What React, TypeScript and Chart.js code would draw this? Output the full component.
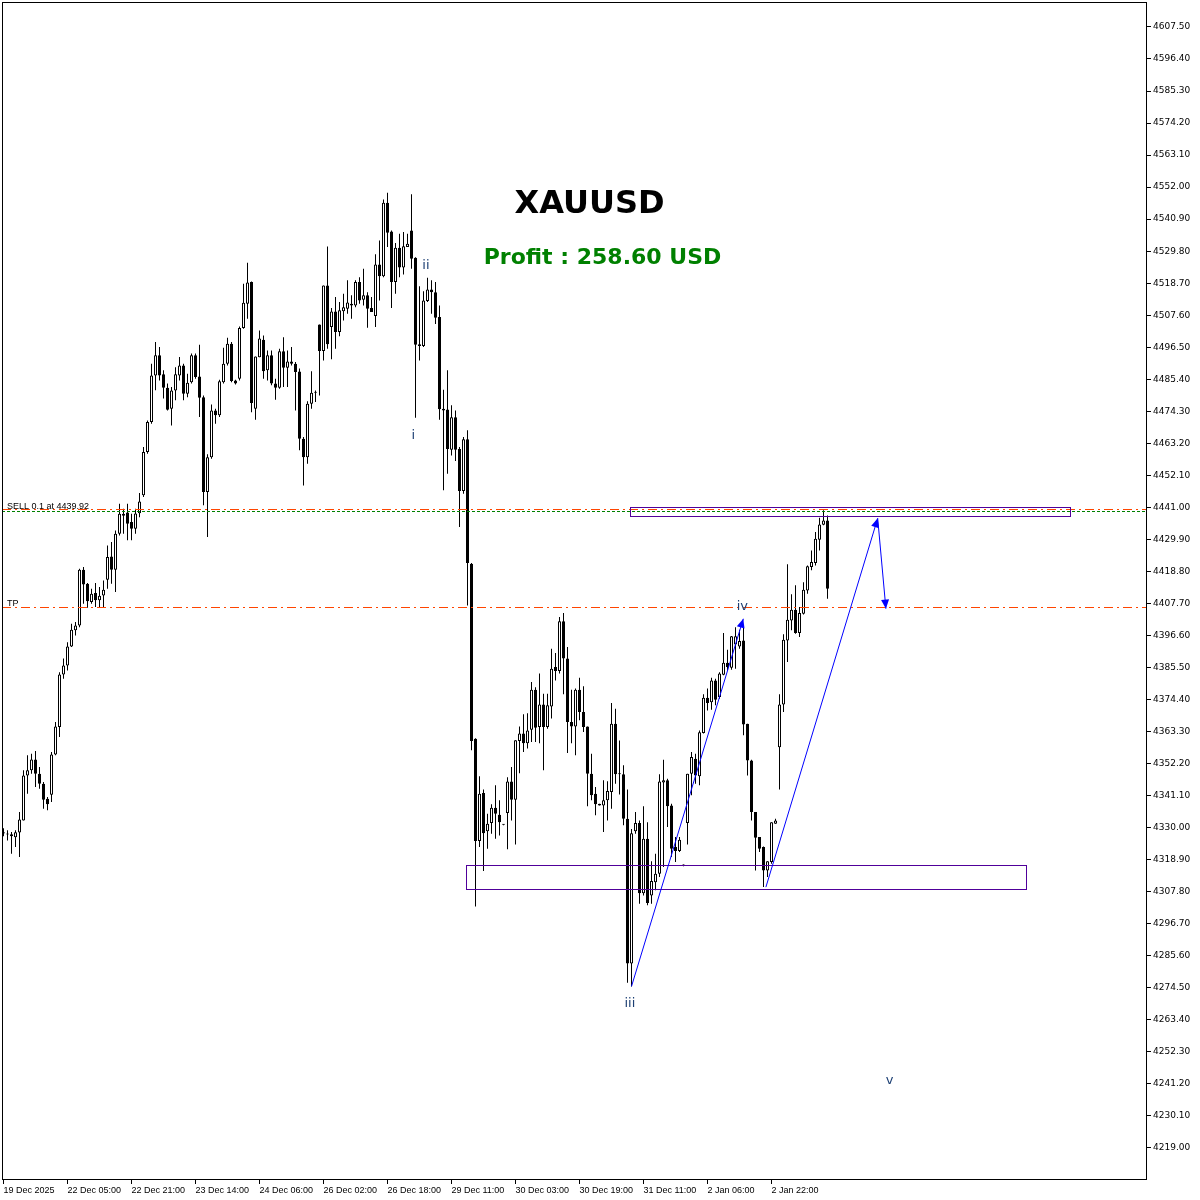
import React, { useEffect, useRef } from 'react';
import { Chart, registerables } from 'chart.js';

Chart.register(...registerables);

// ---------- Candle data (XAUUSD H1) ----------
const OPEN = [
  4328.0, 4327.8, 4327.7, 4326.7, 4328.3, 4332.5, 4348.1, 4349.9, 4353.6, 4348.7,
  4345.2, 4340.0, 4341.4, 4355.4, 4364.9, 4383.1, 4386.2, 4392.8, 4398.4, 4400.1,
  4419.4, 4414.5, 4408.2, 4411.3, 4408.8, 4410.5, 4415.9, 4424.0, 4419.4, 4431.9,
  4438.8, 4439.2, 4435.9, 4433.6, 4439.0, 4445.2, 4460.2, 4470.6, 4486.7, 4493.7,
  4487.1, 4482.5, 4475.2, 4481.5, 4486.7, 4490.2, 4480.4, 4484.4, 4493.7, 4486.4,
  4479.2, 4446.3, 4458.4, 4474.6, 4472.9, 4484.4, 4490.8, 4497.7, 4485.0, 4485.6,
  4503.2, 4511.6, 4519.1, 4475.2, 4493.0, 4499.1, 4488.5, 4493.7, 4483.9, 4482.5,
  4495.1, 4489.4, 4491.6, 4490.8, 4488.1, 4464.8, 4458.4, 4476.9, 4480.7, 4504.4,
  4495.2, 4517.9, 4503.5, 4508.9, 4501.8, 4509.0, 4509.8, 4511.6, 4511.0, 4519.1,
  4513.0, 4514.5, 4510.1, 4507.3, 4525.2, 4521.1, 4546.6, 4536.6, 4519.1, 4531.0,
  4524.1, 4531.2, 4537.0, 4527.5, 4497.5, 4496.9, 4512.5, 4516.5, 4515.6, 4507.0,
  4475.2, 4474.9, 4461.0, 4472.2, 4461.2, 4446.7, 4464.6, 4421.5, 4360.8, 4325.4,
  4342.0, 4328.8, 4331.6, 4336.9, 4334.5, 4331.0, 4335.1, 4346.0, 4339.7, 4360.0,
  4362.6, 4359.3, 4363.9, 4377.8, 4364.9, 4372.7, 4364.9, 4372.0, 4385.7, 4384.3,
  4401.5, 4388.6, 4366.6, 4365.1, 4377.8, 4370.1, 4365.1, 4348.7, 4341.8, 4338.3,
  4337.7, 4339.5, 4342.4, 4366.0, 4348.9, 4348.5, 4333.1, 4282.9, 4328.8, 4331.6,
  4307.3, 4326.2, 4306.5, 4311.1, 4314.0, 4345.7, 4346.4, 4337.7, 4323.3, 4321.9,
  4316.9, 4331.6, 4348.7, 4353.9, 4347.8, 4362.8, 4375.0, 4373.5, 4381.0, 4375.3,
  4383.0, 4387.2, 4385.4, 4393.5, 4392.8, 4394.9, 4366.0, 4353.3, 4335.4, 4326.8,
  4323.3, 4315.2, 4318.1, 4331.4, 4357.9, 4372.7, 4394.9, 4401.8, 4405.5, 4397.5,
  4404.1, 4412.2, 4420.3, 4421.7, 4429.8, 4435.0, 4436.5,
];
const HIGH = [
  4329.8, 4329.1, 4328.5, 4329.1, 4335.4, 4349.9, 4355.1, 4355.6, 4356.6, 4351.0,
  4345.8, 4340.6, 4356.2, 4366.6, 4383.9, 4388.6, 4394.3, 4400.7, 4401.3, 4419.7,
  4420.3, 4414.8, 4412.8, 4414.8, 4413.4, 4415.7, 4427.8, 4429.0, 4433.0, 4442.3,
  4440.5, 4442.3, 4438.8, 4440.5, 4446.0, 4461.9, 4471.1, 4490.8, 4498.3, 4496.6,
  4488.5, 4483.9, 4482.7, 4489.6, 4493.1, 4490.8, 4487.3, 4494.3, 4494.3, 4497.4,
  4479.8, 4459.4, 4476.7, 4475.2, 4485.2, 4496.3, 4499.8, 4498.3, 4485.2, 4503.7,
  4518.5, 4525.8, 4519.3, 4493.3, 4502.3, 4500.6, 4495.4, 4495.4, 4485.6, 4496.0,
  4500.0, 4495.4, 4496.6, 4491.4, 4489.1, 4465.4, 4477.8, 4488.2, 4481.5, 4504.4,
  4517.9, 4531.4, 4510.1, 4513.9, 4512.2, 4515.0, 4519.7, 4514.5, 4519.7, 4520.8,
  4523.7, 4515.6, 4513.9, 4528.7, 4533.5, 4547.7, 4550.0, 4537.0, 4532.6, 4535.8,
  4536.4, 4535.8, 4549.5, 4527.7, 4517.6, 4515.9, 4520.6, 4519.7, 4519.1, 4511.0,
  4481.8, 4488.5, 4476.4, 4474.6, 4461.9, 4465.4, 4467.7, 4421.7, 4361.0, 4347.8,
  4343.2, 4334.8, 4338.1, 4344.7, 4339.5, 4331.2, 4347.5, 4351.0, 4360.3, 4365.1,
  4369.3, 4369.7, 4380.5, 4378.7, 4383.4, 4376.4, 4376.4, 4392.0, 4390.5, 4403.0,
  4404.4, 4392.6, 4377.8, 4378.2, 4382.0, 4379.0, 4365.1, 4355.6, 4344.1, 4338.3,
  4346.4, 4346.1, 4373.2, 4371.2, 4360.2, 4351.6, 4343.2, 4329.5, 4335.4, 4332.5,
  4337.4, 4331.9, 4318.4, 4321.0, 4348.5, 4353.5, 4347.0, 4338.3, 4326.8, 4326.8,
  4317.2, 4348.7, 4356.2, 4355.6, 4363.7, 4376.2, 4378.2, 4382.0, 4381.6, 4383.9,
  4397.5, 4391.7, 4396.4, 4399.5, 4398.6, 4399.5, 4366.0, 4353.5, 4335.4, 4326.8,
  4323.5, 4318.4, 4331.9, 4333.1, 4376.2, 4397.0, 4421.3, 4410.9, 4414.0, 4406.5,
  4415.1, 4420.9, 4426.1, 4432.5, 4437.4, 4440.0, 4438.2,
];
const LOW = [
  4327.0, 4325.6, 4321.0, 4323.3, 4319.8, 4332.5, 4341.8, 4348.7, 4344.1, 4343.5,
  4336.6, 4336.0, 4338.9, 4355.1, 4361.4, 4381.6, 4384.5, 4392.6, 4396.6, 4399.5,
  4407.6, 4406.2, 4407.6, 4406.5, 4406.5, 4406.5, 4412.8, 4414.5, 4411.7, 4431.3,
  4431.9, 4429.6, 4429.6, 4431.9, 4437.6, 4444.6, 4459.6, 4470.0, 4481.6, 4485.0,
  4478.7, 4474.6, 4469.4, 4478.1, 4485.0, 4478.1, 4479.2, 4483.9, 4485.6, 4472.3,
  4441.7, 4430.7, 4457.9, 4470.0, 4472.3, 4483.9, 4490.2, 4484.4, 4483.6, 4485.0,
  4502.9, 4506.4, 4474.0, 4471.4, 4493.0, 4485.6, 4485.0, 4483.3, 4478.3, 4482.1,
  4482.7, 4482.7, 4490.2, 4474.6, 4460.8, 4448.6, 4456.1, 4475.2, 4477.5, 4479.8,
  4491.9, 4496.0, 4492.3, 4496.0, 4500.3, 4505.8, 4508.1, 4506.4, 4510.4, 4511.6,
  4511.0, 4503.3, 4508.7, 4503.5, 4512.7, 4520.8, 4531.2, 4510.1, 4515.0, 4520.8,
  4521.7, 4531.2, 4523.7, 4472.1, 4491.9, 4496.6, 4512.2, 4508.1, 4504.6, 4471.4,
  4446.9, 4452.7, 4459.0, 4457.1, 4434.2, 4445.7, 4407.0, 4356.8, 4302.7, 4323.3,
  4315.0, 4322.7, 4327.9, 4326.2, 4327.3, 4330.8, 4322.5, 4332.5, 4324.2, 4348.9,
  4356.2, 4357.4, 4359.7, 4359.7, 4359.3, 4349.9, 4364.3, 4367.8, 4381.0, 4383.4,
  4376.2, 4355.9, 4359.3, 4355.1, 4367.2, 4363.2, 4337.4, 4339.5, 4334.3, 4337.7,
  4328.5, 4332.5, 4336.6, 4345.2, 4341.5, 4330.8, 4276.3, 4275.0, 4327.9, 4303.6,
  4306.5, 4303.1, 4303.6, 4308.3, 4312.9, 4316.4, 4330.2, 4319.8, 4318.1, 4321.6,
  4316.6, 4324.2, 4341.2, 4345.2, 4344.7, 4362.6, 4370.6, 4370.9, 4372.4, 4374.7,
  4382.8, 4384.5, 4384.7, 4385.1, 4392.0, 4362.0, 4348.1, 4332.5, 4315.2, 4321.6,
  4309.4, 4312.9, 4317.5, 4331.4, 4343.2, 4370.1, 4387.4, 4398.4, 4397.2, 4396.1,
  4403.9, 4411.1, 4419.2, 4420.9, 4426.1, 4434.8, 4409.3,
];
const CLOSE = [
  4328.4, 4327.6, 4327.0, 4328.4, 4332.8, 4348.1, 4349.9, 4353.6, 4348.7, 4345.2,
  4339.7, 4338.1, 4355.4, 4365.1, 4383.1, 4386.2, 4392.8, 4398.6, 4400.1, 4419.4,
  4414.3, 4408.5, 4411.1, 4408.8, 4410.4, 4412.5, 4423.8, 4419.4, 4431.9, 4438.8,
  4438.1, 4435.3, 4433.6, 4438.9, 4443.0, 4460.2, 4470.6, 4486.7, 4493.7, 4486.7,
  4482.5, 4474.8, 4481.5, 4487.1, 4490.2, 4480.4, 4484.2, 4493.7, 4486.2, 4479.0,
  4446.3, 4458.4, 4474.6, 4472.9, 4484.7, 4490.8, 4497.7, 4484.8, 4483.9, 4503.2,
  4511.9, 4518.9, 4477.2, 4493.3, 4499.5, 4488.2, 4493.7, 4483.9, 4482.5, 4495.1,
  4489.4, 4491.6, 4490.8, 4487.9, 4464.8, 4458.4, 4476.9, 4480.7, 4481.0, 4495.2,
  4517.9, 4497.5, 4508.9, 4501.8, 4509.3, 4510.4, 4512.0, 4511.0, 4519.1, 4512.7,
  4514.5, 4509.8, 4508.7, 4525.2, 4521.1, 4546.6, 4536.2, 4519.1, 4531.0, 4524.1,
  4531.5, 4532.4, 4527.2, 4497.4, 4496.9, 4512.7, 4516.5, 4515.6, 4506.7, 4475.0,
  4474.6, 4461.2, 4472.2, 4461.0, 4446.7, 4464.6, 4421.7, 4360.0, 4325.4, 4341.8,
  4328.1, 4331.4, 4336.9, 4334.8, 4331.9, 4331.1, 4346.0, 4339.7, 4360.3, 4362.6,
  4359.3, 4363.7, 4377.8, 4364.6, 4372.7, 4364.9, 4372.4, 4385.1, 4384.3, 4401.5,
  4388.6, 4366.6, 4365.1, 4377.8, 4370.1, 4364.9, 4348.7, 4341.2, 4338.1, 4337.7,
  4339.5, 4342.7, 4366.0, 4348.5, 4348.5, 4333.1, 4282.9, 4328.1, 4331.6, 4307.3,
  4326.2, 4303.9, 4311.5, 4314.0, 4346.0, 4346.4, 4337.4, 4322.7, 4321.9, 4325.8,
  4317.0, 4348.7, 4354.5, 4348.1, 4363.1, 4375.0, 4373.2, 4381.0, 4374.3, 4383.4,
  4387.2, 4385.7, 4396.3, 4396.3, 4394.7, 4365.8, 4353.3, 4335.4, 4326.5, 4322.7,
  4315.2, 4318.4, 4331.9, 4332.5, 4372.7, 4395.1, 4402.1, 4405.5, 4397.5, 4404.4,
  4412.5, 4420.6, 4422.1, 4430.1, 4435.1, 4436.5, 4412.8,
];

// ---------- Axis ticks ----------
const X_TICK_BARS = [0, 16, 32, 48, 64, 80, 96, 112, 128, 144, 160, 176, 192];
const X_TICK_LABELS = [
  '19 Dec 2025', '22 Dec 05:00', '22 Dec 21:00', '23 Dec 14:00', '24 Dec 06:00',
  '26 Dec 02:00', '26 Dec 18:00', '29 Dec 11:00', '30 Dec 03:00', '30 Dec 19:00',
  '31 Dec 11:00', '2 Jan 06:00', '2 Jan 22:00',
];
const Y_TICK_START = 4219.0;
const Y_TICK_STEP = 11.1;
const Y_TICK_COUNT = 36;
const X_MIN = -0.375;
const X_MAX = 285.875;
const Y_MIN = 4207.9;
const Y_MAX = 4616.15;

// ---------- Trade levels & annotations ----------
const SELL_PRICE = 4439.92;
const ENTRY_DASHDOT_PRICE = 4440.3;
const TP_PRICE = 4406.6;
const SELL_TEXT = 'SELL 0.1 at 4439.92';
const TP_TEXT = 'TP';
const LEVEL_PRICES = [ENTRY_DASHDOT_PRICE, SELL_PRICE, TP_PRICE];
const LEVEL_COLORS = ['#ff4500', '#008000', '#ff4500'];
const LEVEL_DASHES = [[9, 4, 2, 4], [3, 2], [9, 4, 2, 4]];

const ZONE_X0 = [156.7, 115.7];
const ZONE_X1 = [266.6, 255.6];
const ZONE_LOW = [4437.9, 4308.8];
const ZONE_HIGH = [4441.3, 4316.9];

const ARROW_X0 = [157.0, 190.6, 218.55];
const ARROW_Y0 = [4275.0, 4309.4, 4437.2];
const ARROW_X1 = [184.95, 218.55, 220.6];
const ARROW_Y1 = [4402.4, 4437.2, 4405.9];

const WAVE_TEXT = ['i', 'ii', 'iii', 'iv', 'v'];
const WAVE_X = [102.45, 105.6, 156.6, 184.7, 221.55];
const WAVE_Y = [4464.6, 4523.6, 4267.8, 4405.5, 4241.0];

const TITLE = 'XAUUSD';
const PROFIT = 'Profit : 258.60 USD';

const overlayPlugin = {
  id: 'mtOverlay',
  afterDatasetsDraw(chart: any) {
    const { ctx, chartArea: a, scales } = chart;
    const xs = scales.x;
    const ys = scales.y;
    const px = (v: number) => xs.getPixelForValue(v);
    const py = (v: number) => ys.getPixelForValue(v);
    const crisp = (v: number) => Math.round(v) + 0.5;

    // horizontal trade levels
    for (let i = 0; i < LEVEL_PRICES.length; i++) {
      const y = crisp(py(LEVEL_PRICES[i]));
      ctx.save();
      ctx.lineWidth = 1;
      ctx.strokeStyle = LEVEL_COLORS[i];
      ctx.setLineDash(LEVEL_DASHES[i]);
      ctx.beginPath();
      ctx.moveTo(a.left, y);
      ctx.lineTo(a.right, y);
      ctx.stroke();
      ctx.restore();
    }

    ctx.save();
    ctx.beginPath();
    ctx.rect(a.left, a.top, a.right - a.left, a.bottom - a.top);
    ctx.clip();

    // level texts
    ctx.fillStyle = '#000';
    ctx.font = '9px "Liberation Sans", Arial, sans-serif';
    ctx.textAlign = 'left';
    ctx.textBaseline = 'alphabetic';
    ctx.fillText(SELL_TEXT, a.left + 5, Math.round(py(SELL_PRICE)) - 2);
    ctx.fillText(TP_TEXT, a.left + 5, Math.round(py(TP_PRICE)) - 1);

    // zones
    ctx.setLineDash([]);
    ctx.strokeStyle = '#50009a';
    ctx.lineWidth = 1;
    for (let i = 0; i < ZONE_X0.length; i++) {
      const x0 = crisp(px(ZONE_X0[i]));
      const x1 = crisp(px(ZONE_X1[i]));
      const y0 = crisp(py(ZONE_HIGH[i]));
      const y1 = crisp(py(ZONE_LOW[i]));
      ctx.strokeRect(x0, y0, x1 - x0, y1 - y0);
    }

    // arrows
    ctx.strokeStyle = '#0000ff';
    ctx.fillStyle = '#0000ff';
    for (let i = 0; i < ARROW_X0.length; i++) {
      const x0 = px(ARROW_X0[i]);
      const y0 = py(ARROW_Y0[i]);
      const x1 = px(ARROW_X1[i]);
      const y1 = py(ARROW_Y1[i]);
      ctx.beginPath();
      ctx.moveTo(x0, y0);
      ctx.lineTo(x1, y1);
      ctx.stroke();
      const ang = Math.atan2(y1 - y0, x1 - x0);
      const len = 9;
      const hw = 4;
      const bx = x1 - len * Math.cos(ang);
      const by = y1 - len * Math.sin(ang);
      ctx.beginPath();
      ctx.moveTo(x1, y1);
      ctx.lineTo(bx + hw * Math.sin(ang), by - hw * Math.cos(ang));
      ctx.lineTo(bx - hw * Math.sin(ang), by + hw * Math.cos(ang));
      ctx.closePath();
      ctx.fill();
    }

    // wave labels
    ctx.fillStyle = '#1c3f73';
    ctx.font = '13px "DejaVu Sans", sans-serif';
    ctx.textAlign = 'center';
    for (let i = 0; i < WAVE_TEXT.length; i++) {
      ctx.fillText(WAVE_TEXT[i], px(WAVE_X[i]), py(WAVE_Y[i]));
    }
    ctx.restore();

    // titles (screen-anchored labels)
    ctx.save();
    ctx.textAlign = 'center';
    ctx.textBaseline = 'alphabetic';
    ctx.fillStyle = '#000';
    ctx.font = 'bold 32px "DejaVu Sans", sans-serif';
    ctx.fillText(TITLE, 589.5, 213);
    ctx.fillStyle = '#008000';
    ctx.font = 'bold 22px "DejaVu Sans", sans-serif';
    ctx.fillText(PROFIT, 602.5, 264);
    ctx.restore();
  },
  afterDraw(chart: any) {
    const { ctx, chartArea: a } = chart;
    ctx.save();
    ctx.setLineDash([]);
    ctx.strokeStyle = '#000';
    ctx.lineWidth = 1;
    ctx.strokeRect(a.left + 0.5, a.top + 0.5, a.right - a.left - 1, a.bottom - a.top - 1);
    ctx.restore();
  },
};

export default function App() {
  const ref = useRef<HTMLCanvasElement>(null);

  useEffect(() => {
    if (!ref.current) return;
    const bodies = OPEN.map((o, i) => ({ x: i, y: [o, CLOSE[i]] }));
    const wicks = LOW.map((l, i) => ({ x: i, y: [l, HIGH[i]] }));
    const bodyColors = OPEN.map((o, i) => (CLOSE[i] >= o ? '#ffffff' : '#000000'));

    const chart = new Chart(ref.current, {
      type: 'bar',
      data: {
        datasets: [
          {
            label: 'body',
            data: bodies as any,
            backgroundColor: bodyColors,
            borderColor: '#000000',
            borderWidth: 1,
            borderSkipped: false,
            barThickness: 3,
            minBarLength: 1,
            grouped: false,
            inflateAmount: 0,
            order: 1,
          } as any,
          {
            label: 'wick',
            data: wicks as any,
            backgroundColor: '#000000',
            borderWidth: 0,
            barThickness: 1,
            minBarLength: 1,
            grouped: false,
            inflateAmount: 0,
            order: 2,
          } as any,
        ],
      },
      options: {
        responsive: false,
        animation: false,
        events: [],
        layout: { padding: { left: 2, top: 2, right: 0, bottom: 0 } },
        plugins: { legend: { display: false }, tooltip: { enabled: false } },
        scales: {
          x: {
            type: 'linear',
            offset: false,
            min: X_MIN,
            max: X_MAX,
            afterBuildTicks: (s: any) => {
              s.ticks = X_TICK_BARS.map((v) => ({ value: v }));
            },
            afterFit: (s: any) => {
              s.height = 20;
              s.paddingLeft = 0;
              s.paddingRight = 0;
              s.paddingTop = 0;
              s.paddingBottom = 0;
            },
            ticks: {
              autoSkip: false,
              maxRotation: 0,
              minRotation: 0,
              align: 'start',
              padding: 1,
              color: '#000',
              font: { family: '"Liberation Sans", Arial, sans-serif', size: 9 },
              callback: (v: any) => {
                const k = X_TICK_BARS.indexOf(Number(v));
                return k >= 0 ? X_TICK_LABELS[k] : '';
              },
            },
            grid: { display: true, offset: false, drawOnChartArea: false, drawTicks: true, tickLength: 4, color: '#000' },
            border: { display: false },
          } as any,
          y: {
            type: 'linear',
            position: 'right',
            offset: false,
            min: Y_MIN,
            max: Y_MAX,
            afterBuildTicks: (s: any) => {
              const t = [];
              for (let k = 0; k < Y_TICK_COUNT; k++) t.push({ value: Y_TICK_START + k * Y_TICK_STEP });
              s.ticks = t;
            },
            afterFit: (s: any) => {
              s.width = 53;
              s.paddingTop = 0;
              s.paddingBottom = 0;
              s.paddingLeft = 0;
              s.paddingRight = 0;
            },
            ticks: {
              autoSkip: false,
              padding: 2,
              color: '#000',
              font: { family: '"DejaVu Sans", sans-serif', size: 9 },
              callback: (v: any) => Number(v).toFixed(2),
            },
            grid: { display: true, drawOnChartArea: false, drawTicks: true, tickLength: 4, color: '#000' },
            border: { display: false },
          } as any,
        },
      } as any,
      plugins: [overlayPlugin],
    });
    return () => chart.destroy();
  }, []);

  return (
    <div style={{ position: 'fixed', left: 0, top: 0, width: 1200, height: 1200, background: '#fff' }}>
      <canvas ref={ref} width={1200} height={1200} style={{ display: 'block', width: 1200, height: 1200 }} />
    </div>
  );
}
